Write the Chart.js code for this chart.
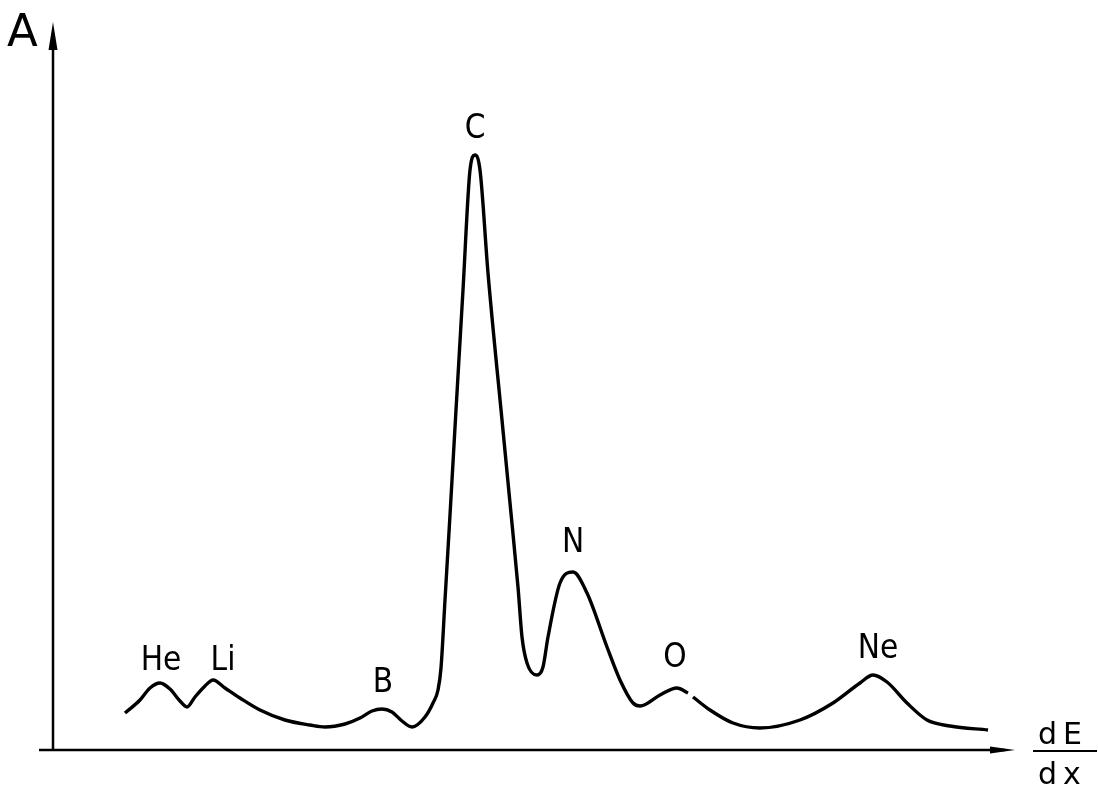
<!DOCTYPE html>
<html>
<head>
<meta charset="utf-8">
<script src="https://cdn.jsdelivr.net/npm/chart.js@4"></script>
<style>
    html, body { margin: 0; padding: 0; background: #fff; }
    #wrap { width: 1098px; height: 791px; position: relative; }
</style>
</head>
<body>
<div id="wrap"><canvas id="spectrum"></canvas></div>
<script>
// dE/dx position (arbitrary units) and amplitude A (arbitrary units); null = break in the pen line
const dEdx = [72, 87, 97, 107, 117, 127, 134, 142, 152, 160, 172, 187, 207, 232, 257, 272, 292, 307, 319, 329, 339, 349, 359, 372,
    380, 385, 388, 392, 397, 403, 410, 417, 422, 427, 435, 449, 457, 465, 469, 474, 484, 490, 495, 507, 520, 534, 554, 567, 580, 587,
    607, 624, 635, 637.5, 640, 657, 680, 707, 747, 780, 807, 820, 834, 854, 874, 897, 935];
const amplitude = [37, 50, 62, 67, 61, 49, 43, 53, 64, 70, 62, 52, 40, 30, 25, 23, 26, 32, 39, 41, 38, 29, 23, 33,
    47, 60, 82, 150, 235, 340, 460, 580, 595, 580, 477, 330, 247, 163, 113, 87, 75, 83, 113, 167, 178, 157, 103, 70, 47, 44,
    55, 62, 57, null, 53, 40, 27, 22, 30, 47, 67, 75, 68, 47, 30, 24, 20];
const peakNames = ['He', 'Li', 'B', 'C', 'N', 'O', 'Ne'];
const peakLabelX = [108, 170, 330, 422, 520, 622, 825];
const peakLabelY = [80, 80, 58, 612, 198, 83, 92];

const points = dEdx.map((x, i) => ({ x: x, y: amplitude[i] }));

const drawingPlugin = {
    id: 'drawing',
    afterDraw(chart) {
        const ctx = chart.ctx;
        const xs = chart.scales.x, ys = chart.scales.y;
        const x0 = xs.getPixelForValue(0), y0 = ys.getPixelForValue(0);
        const xEnd = xs.getPixelForValue(xs.max) + 5, yTop = ys.getPixelForValue(ys.max) + 4;
        ctx.save();
        ctx.strokeStyle = '#000';
        ctx.fillStyle = '#000';
        ctx.lineWidth = 2.5;
        // axes
        ctx.beginPath();
        ctx.moveTo(x0 - 14, y0);
        ctx.lineTo(xEnd - 10, y0);
        ctx.moveTo(x0, y0);
        ctx.lineTo(x0, yTop + 12);
        ctx.stroke();
        // arrow heads
        ctx.beginPath();
        ctx.moveTo(xEnd, y0);
        ctx.lineTo(xEnd - 25, y0 - 3.5);
        ctx.lineTo(xEnd - 25, y0 + 3.5);
        ctx.closePath();
        ctx.fill();
        ctx.beginPath();
        ctx.moveTo(x0, yTop);
        ctx.lineTo(x0 - 4.5, yTop + 28);
        ctx.lineTo(x0 + 4.5, yTop + 28);
        ctx.closePath();
        ctx.fill();

        // peak labels
        ctx.font = '33px "DejaVu Sans Condensed", "DejaVu Sans"';
        ctx.textAlign = 'center';
        ctx.textBaseline = 'alphabetic';
        peakNames.forEach((name, i) => {
            ctx.fillText(name, xs.getPixelForValue(peakLabelX[i]), ys.getPixelForValue(peakLabelY[i]));
        });

        // axis titles
        ctx.font = '45px "DejaVu Sans"';
        ctx.textAlign = 'left';
        ctx.fillText('A', 7, 46);
        ctx.font = '30px "DejaVu Sans"';
        ctx.letterSpacing = '6px';
        ctx.fillText('dE', 1038, 744);
        ctx.fillText('dx', 1038, 784);
        ctx.lineWidth = 2;
        ctx.beginPath();
        ctx.moveTo(1033, 751);
        ctx.lineTo(1097, 751);
        ctx.stroke();
        ctx.restore();
    }
};

new Chart(document.getElementById('spectrum'), {
    type: 'line',
    data: {
        datasets: [{
            data: points,
            borderColor: '#000',
            borderWidth: 3.4,
            pointRadius: 0,
            fill: false,
            spanGaps: false,
            cubicInterpolationMode: 'monotone'
        }]
    },
    options: {
        responsive: true,
        maintainAspectRatio: false,
        animation: false,
        layout: { padding: { left: 53, right: 88, top: 18, bottom: 41 } },
        plugins: { legend: { display: false }, tooltip: { enabled: false } },
        scales: {
            x: { type: 'linear', display: false, min: 0, max: 957 },
            y: { type: 'linear', display: false, min: 0, max: 732 }
        }
    },
    plugins: [drawingPlugin]
});
</script>
</body>
</html>
